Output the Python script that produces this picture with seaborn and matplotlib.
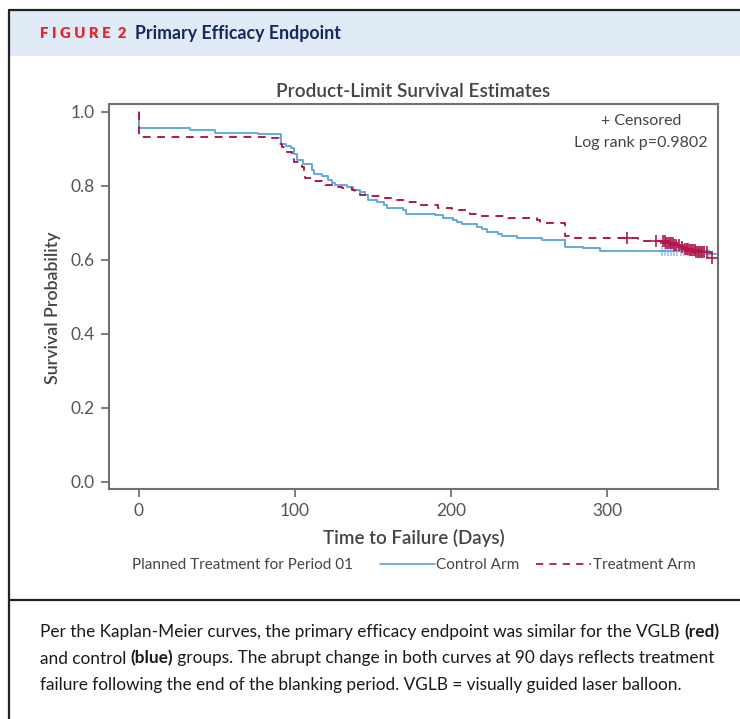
import seaborn as sns
import matplotlib.pyplot as plt
import numpy as np
import pandas as pd
from matplotlib.patches import Rectangle
from matplotlib.lines import Line2D

# Kaplan-Meier step points (days, survival)
ctrl_days = [0, 0, 33, 49, 76.5, 91, 94.4, 97.4, 99.6, 101.3, 105.1, 110.9, 112.4, 117.3, 121.5,
             123.7, 125.8, 133.3, 137.5, 141.8, 145, 147, 152.5, 157, 158.9, 169.5, 171.3, 189.8,
             195.1, 201.5, 203.7, 206.9, 216.5, 219.7, 222.9, 230.3, 232.5, 242.1, 258.1, 273,
             284.8, 295.5, 364, 370]
ctrl_surv = [1.0, 0.955, 0.952, 0.944, 0.939, 0.912, 0.907, 0.901, 0.887, 0.871, 0.858, 0.844,
             0.833, 0.827, 0.817, 0.808, 0.802, 0.797, 0.790, 0.784, 0.775, 0.761, 0.757, 0.748,
             0.741, 0.734, 0.725, 0.720, 0.713, 0.707, 0.701, 0.696, 0.689, 0.683, 0.676, 0.669,
             0.664, 0.659, 0.653, 0.635, 0.631, 0.624, 0.617, 0.617]

treat_days = [0, 0, 83, 90.1, 91.7, 94.9, 98.1, 99.1, 104.5, 105.5, 106.2, 111.9, 117.3, 119.4,
              124.7, 130.1, 136.5, 138.6, 141.8, 148.2, 157.8, 164.2, 172.7, 178.1, 191.9, 200.5,
              209, 212.2, 216.5, 236.8, 240, 254.9, 257, 273, 276, 320, 338, 343, 347, 350, 353,
              357, 366, 368]
treat_surv = [1.0, 0.933, 0.928, 0.912, 0.905, 0.891, 0.880, 0.865, 0.851, 0.833, 0.820, 0.812,
              0.808, 0.802, 0.797, 0.793, 0.788, 0.781, 0.775, 0.772, 0.766, 0.761, 0.755, 0.748,
              0.741, 0.736, 0.728, 0.723, 0.719, 0.714, 0.712, 0.707, 0.700, 0.665, 0.658, 0.650,
              0.645, 0.640, 0.635, 0.630, 0.626, 0.622, 0.605, 0.605]

# censoring times
ctrl_cens = [335, 337, 339, 341, 343, 345, 347, 349, 352, 354, 356, 358, 360, 362, 365]
treat_cens = [313, 331, 336, 337, 338, 339, 340, 341, 342, 343, 344, 346, 348, 350, 351, 352,
              353, 354, 355, 356, 357, 358, 359, 360, 361, 362, 364, 367]

arms = ['Control Arm', 'Treatment Arm']
blue = '#62a9e0'
red = '#b3164b'
grey = '#444444'


def surv_at(days, surv, t):
    idx = np.searchsorted(np.array(days), t, side='right') - 1
    return np.array(surv)[idx]


df = pd.concat([
    pd.DataFrame({'day': ctrl_days, 'surv': ctrl_surv, 'arm': arms[0]}),
    pd.DataFrame({'day': treat_days, 'surv': treat_surv, 'arm': arms[1]}),
])
cens = pd.concat([
    pd.DataFrame({'day': ctrl_cens, 'surv': surv_at(ctrl_days, ctrl_surv, ctrl_cens), 'arm': arms[0]}),
    pd.DataFrame({'day': treat_cens, 'surv': surv_at(treat_days, treat_surv, treat_cens), 'arm': arms[1]}),
])

sns.set_style('white')
plt.rcParams['font.family'] = ['Lato', 'DejaVu Sans']

W, H = 740, 719
fig = plt.figure(figsize=(W / 100, H / 100), dpi=100)


def fx(x):
    return x / W


def fy(y):
    return 1 - y / H


# header band and frame
fig.patches.append(Rectangle((fx(9), fy(56)), 1 - fx(9), fy(10) - fy(56), transform=fig.transFigure,
                             facecolor='#dfeaf6', edgecolor='none'))
fig.add_artist(Line2D([fx(9), 1], [fy(10), fy(10)], color='#222222', lw=1.6))
fig.add_artist(Line2D([fx(9), fx(9)], [fy(10), 0], color='#222222', lw=1.6))
fig.add_artist(Line2D([fx(9), 1], [fy(600), fy(600)], color='#222222', lw=1.6))
fig.text(fx(40), fy(33), 'F I G U R E  2', color='#e3262d', fontsize=10.8, fontweight='heavy',
         va='center')
fig.text(fx(135), fy(33), 'Primary Efficacy Endpoint', color='#17285a', fontsize=12.8,
         fontweight='bold', va='center')

ax = fig.add_axes([fx(109), fy(489), fx(718) - fx(109), fy(104) - fy(489)])

sns.scatterplot(data=cens[cens.arm == arms[0]], x='day', y='surv', marker='+', s=60, linewidth=1.1,
                color='#8ec3ea', ax=ax, legend=False, zorder=3)
sns.lineplot(data=df, x='day', y='surv', hue='arm', style='arm', estimator=None, sort=False,
             drawstyle='steps-post', palette={arms[0]: blue, arms[1]: red},
             dashes={arms[0]: '', arms[1]: (4, 3.4)}, linewidth=1.4, ax=ax, legend=False, zorder=4)
sns.scatterplot(data=cens[cens.arm == arms[1]], x='day', y='surv', marker='+', s=70, linewidth=1.2,
                color=red, ax=ax, legend=False, zorder=5)

ax.set_xlim(-19.1, 371)
ax.set_ylim(-0.019, 1.021)
ax.set_xticks([0, 100, 200, 300])
ax.set_yticks([0, 0.2, 0.4, 0.6, 0.8, 1.0])
ax.set_yticklabels(['0.0', '0.2', '0.4', '0.6', '0.8', '1.0'])
ax.tick_params(axis='both', direction='out', length=6, width=1.2, color='#666666', labelsize=12.5,
               labelcolor='#555555', bottom=True, left=True, pad=4)
for s in ax.spines.values():
    s.set_color('#707070')
    s.set_linewidth(1.5)

ax.set_xlabel('Time to Failure (Days)', fontsize=13.5, fontweight='semibold', color=grey, labelpad=7)
ax.set_ylabel('Survival Probability', fontsize=12.8, fontweight='semibold', color=grey)
ax.yaxis.set_label_coords(-0.078, 0.47)
ax.set_title('Product-Limit Survival Estimates', fontsize=13.7, fontweight='semibold', color=grey,
             pad=5)

ax.text(0.874, 0.955, '+ Censored', transform=ax.transAxes, ha='center', va='center', fontsize=11.5,
        color=grey)
ax.text(0.874, 0.900, 'Log rank p=0.9802', transform=ax.transAxes, ha='center', va='center',
        fontsize=11.5, color=grey)

# legend row
fig.text(fx(132), fy(565), 'Planned Treatment for Period 01', fontsize=11, color=grey, va='center')
handles = [Line2D([], [], color=blue, lw=1.3),
           Line2D([], [], color=red, lw=1.3, linestyle=(0, (4, 3.4)))]
fig.legend(handles, arms, loc='center left', bbox_to_anchor=(fx(366), fy(565)), ncol=2, frameon=False,
           fontsize=11, labelcolor=grey, handlelength=3.6, handletextpad=0.1, columnspacing=1.1)

# caption
cap_size = 12.4
lines = [
    [('Per the Kaplan-Meier curves, the primary efficacy endpoint was similar for the VGLB ', 'normal'),
     ('(red)', 'bold')],
    [('and control ', 'normal'), ('(blue)', 'bold'),
     (' groups. The abrupt change in both curves at 90 days reflects treatment', 'normal')],
    [('failure following the end of the blanking period. VGLB = visually guided laser balloon.', 'normal')],
]
renderer = fig.canvas.get_renderer()
for i, parts in enumerate(lines):
    x = fx(40)
    for txt, wt in parts:
        t = fig.text(x, fy(632 + i * 26.5), txt, fontsize=cap_size, fontweight=wt, color='#1a1a1a',
                     va='center')
        bb = t.get_window_extent(renderer)
        x += bb.width / W

fig.savefig('out.png', dpi=100)
